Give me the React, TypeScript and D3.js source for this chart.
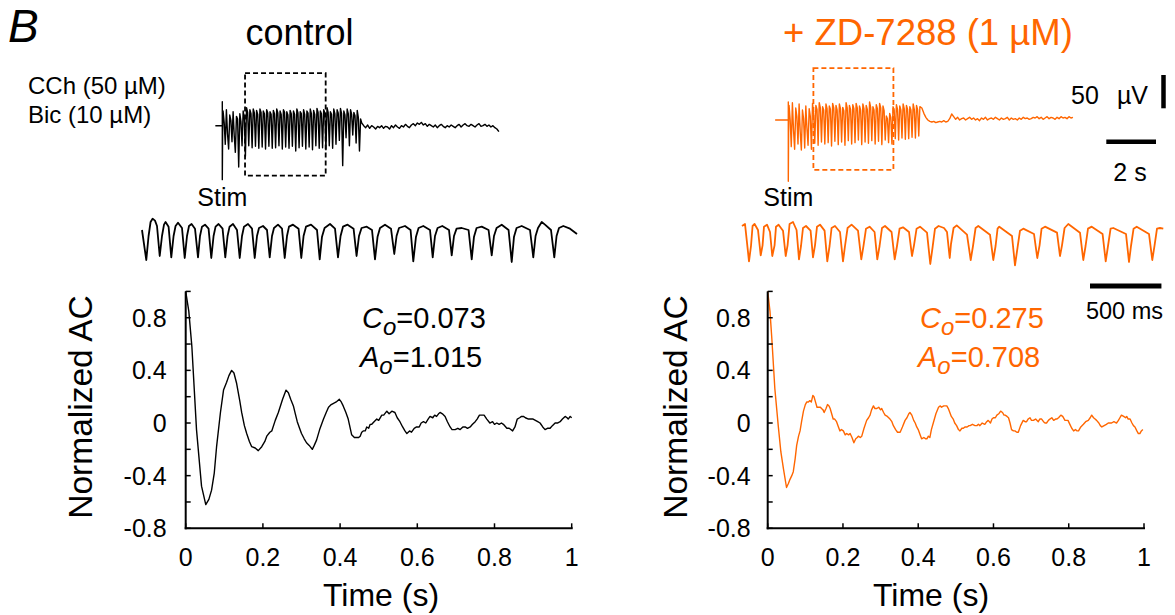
import React from 'react';
import * as d3 from 'd3';

const ORANGE = '#ff6600';
const FONT = '"Liberation Sans", Arial, Helvetica, sans-serif';

// ---------- Top traces (field potential, µV vs s after stim) ----------
const ctrlPreStim = -0.28; // s, baseline before stimulation
const ctrlStim = [36, -81]; // µV, stimulus artefact extremes
// burst sampled every 45 ms (three samples per population spike)
const ctrlBurst = [
  22, 5, -28, 24, -12, -35, 16, 8, -24, 21, -15, -40, 14, 10, -62,
  18, 6, -30, 22, 12, -46, 27, 20, -30, 24, 18, -33, 25, 19, -31,
  23, 17, -34, 25, 20, -32, 22, 18, -35, 24, 19, -31, 21, 17, -34,
  23, 18, -33, 25, 19, -30, 22, 17, -35, 24, 20, -32, 21, 16, -34,
  23, 18, -31, 22, 17, -38, 25, 19, -33, 21, 18, -31, 24, 17, -35,
  22, 19, -32, 25, 18, -36, 23, 17, -30, 26, 20, -34, 22, 18, -33,
  24, 19, -36, 27, 20, -30, 21, 17, -34, 25, 18, -28, 24, 19, -22,
  26, 18, -60, 22, 16, -18, 25, 18, -30, 24, 17, -14, 20, 15, -26,
  23, 12, -38, 10, 4,
];
const ctrlFlat = [
  0, -3, 1, -4, 0, -2, -5, -1, -3, 0,
  -4, -1, -2, -5, 0, -3, 1, -2, -4, 0,
  -2, 2, -1, -3, 1, 3, 0, 4, 2, 5,
  1, 3, -1, 2, 0, -2, 1, -3, 0, 2,
  -1, -3, 0, -2, 1, -1, -3, 0, 2, -2,
  1, 3, 0, -1, 2, 0, -2, 1, 3, -1,
  0, 2, -1, 1, -2, 0, -3, -5, -9,
];
const ctrlBox = { t0: 0.915, t1: 4.16, top: 79, bottom: -75 };

const zdPreStim = -0.53;
const zdStim = [27, -92];
const zdBurst = [
  22, 0, -40, 26, -15, -44, 18, 5, -36, 24, -18, -45, 15, 2, -42,
  21, -12, -38, 17, 6, -44, 25, 10, -35, 22, 16, -38, 26, 18, -33,
  20, 15, -36, 24, 17, -34, 21, 16, -39, 25, 18, -32, 22, 15, -37,
  24, 17, -33, 19, 14, -38, 26, 18, -31, 22, 16, -36, 23, 17, -34,
  25, 18, -30, 21, 15, -37, 24, 17, -33, 22, 16, -35, 27, 19, -31,
  20, 15, -36, 23, 17, -32, 25, 18, -37, 21, 14, -30, 6, 2, -34,
  10, 4, -36, 20, 15, -28, 23, 16, -30, 21, 15, -27, 24, 17, -29,
  22, 16, -28, 20, 15, -26, 24, 16, -27, 22, 15, -24, 20,
];
const zdFlat = [
  18, 10, 4, 0, -2, -3, -2, -4, -3, -2,
  -3, -1, -3, -2, 2, 9, 5, 1, 4, 0,
  2, 3, 0, 2, 4, 1, 3, 0, 2, -1,
  3, 1, 4, 0, 2, 3, 1, 4, 2, 0,
  3, 1, 2, 4, 0, 3, 1, 2, 0, 3,
  1, 4, 2, 3, 1, 2, 4, 3, 5, 2,
  4, 1, 3, 5, 2, 4, 3, 1, 4, 2,
  5, 3, 4, 2, 5, 3, 4,
];
const zdBox = { t0: 1.01, t1: 4.23, top: 78, bottom: -75 };

const burstDt = 0.045; // s
const flatDt = 0.08; // s

// ---------- Expanded traces ([ms, µV]) ----------
const ctrlZoom: [number, number][] = [
  [0, 15], [30, -30], [46, 6], [60, 27], [74, 32], [91, 29], [105, 21],
  [124, -24], [140, 6], [154, 23], [165, 27], [186, 20],
  [205, -26], [221, 6], [235, 21], [252, 26], [280, 18],
  [299, -27], [315, 6], [329, 21], [347, 24], [371, 17],
  [392, -26], [406, 6], [420, 20], [441, 23], [466, 17],
  [485, -27], [501, 6], [515, 20], [536, 24], [564, 17],
  [583, -26], [599, 6], [613, 20], [637, 24], [665, 15],
  [684, -27], [700, 6], [714, 20], [742, 24], [770, 17],
  [789, -27], [805, 6], [819, 18], [847, 21], [875, 15],
  [894, -26], [910, 6], [924, 18], [952, 23], [980, 17],
  [999, -27], [1015, 6], [1029, 20], [1057, 23], [1096, 17],
  [1115, -27], [1131, 6], [1148, 20], [1183, 23], [1225, 15],
  [1244, -29], [1260, 5], [1278, 18], [1316, 24], [1351, 17],
  [1372, -26], [1390, 6], [1407, 20], [1439, 23], [1481, 17],
  [1502, -24], [1519, 6], [1537, 18], [1573, 20], [1610, 15],
  [1631, -29], [1649, 5], [1666, 18], [1701, 23], [1743, 17],
  [1766, -21], [1782, 6], [1799, 18], [1841, 21], [1880, 15],
  [1899, -32], [1918, 5], [1936, 18], [1969, 21], [2016, 15],
  [2035, -26], [2051, 6], [2069, 18], [2102, 21], [2149, 15],
  [2168, -23], [2184, 6], [2202, 17], [2238, 18], [2286, 15],
  [2308, -29], [2324, 5], [2342, 18], [2378, 20], [2426, 15],
  [2448, -23], [2464, 6], [2482, 18], [2518, 23], [2566, 15],
  [2588, -33], [2604, 5], [2622, 18], [2658, 21], [2716, 15],
  [2739, -26], [2755, 6], [2772, 18], [2798, 27], [2821, 23], [2863, 15],
  [2886, -26], [2902, 6], [2919, 18], [2949, 21], [2996, 17], [3045, 9],
];

const zdZoom: [number, number][] = [
  [0, 21], [21, 24], [49, -32], [63, -9], [74, 21], [88, 24], [112, 15],
  [131, -23], [144, -8], [154, 20], [175, 23], [196, 12],
  [212, -24], [228, -8], [238, 20], [256, 23], [287, 14],
  [306, -24], [319, -8], [333, 24], [357, 27], [382, 15],
  [399, -29], [413, -9], [427, 18], [448, 21], [480, 14],
  [497, -26], [511, -8], [525, 20], [546, 23], [578, 14],
  [597, -32], [613, -9], [627, 18], [651, 21], [686, 12],
  [707, -32], [721, -9], [739, 18], [767, 23], [812, 14],
  [835, -29], [851, -8], [868, 17], [893, 20], [928, 12],
  [947, -29], [963, -9], [980, 18], [1001, 21], [1047, 12],
  [1069, -29], [1085, -9], [1103, 17], [1127, 19], [1169, 12],
  [1190, -24], [1204, -8], [1222, 17], [1246, 20], [1295, 11],
  [1318, -36], [1334, -11], [1351, 17], [1376, 21], [1414, 18], [1435, 12],
  [1454, -27], [1463, -6], [1481, 18], [1503, 22], [1575, 8],
  [1601, -30], [1617, -9], [1635, 18], [1654, 21], [1736, 8],
  [1759, -30], [1775, -9], [1789, 17], [1801, 20], [1890, 6],
  [1911, -38], [1929, -11], [1946, 14], [1969, 17], [2044, 9],
  [2067, -27], [2083, -8], [2097, 17], [2121, 20], [2205, 11],
  [2226, -24], [2240, -8], [2258, 18], [2284, 24], [2366, 11],
  [2389, -30], [2405, -9], [2422, 17], [2448, 20], [2524, 9],
  [2546, -32], [2562, -9], [2580, 17], [2599, 18], [2688, 9],
  [2709, -33], [2723, -9], [2741, 17], [2763, 20], [2849, 9],
  [2872, -30], [2888, -8], [2905, 17], [2926, 18], [2949, 17],
];

// ---------- Autocorrelation ([s, normalized AC]) ----------
const ctrlAC: [number, number][] = [
  [0, 1.0], [0.008, 0.85], [0.016, 0.58], [0.028, -0.05], [0.041, -0.48], [0.052, -0.62], [0.06, -0.58],
  [0.067, -0.51], [0.074, -0.38], [0.08, -0.18], [0.09, 0.08], [0.098, 0.25], [0.106, 0.31], [0.112, 0.36],
  [0.119, 0.40], [0.125, 0.38], [0.132, 0.30], [0.14, 0.17], [0.145, 0.08], [0.152, -0.02], [0.158, -0.08],
  [0.165, -0.14], [0.171, -0.18], [0.18, -0.19], [0.188, -0.21], [0.197, -0.18], [0.205, -0.14], [0.21, -0.10],
  [0.218, -0.07], [0.223, -0.06], [0.232, 0.02], [0.24, 0.08], [0.251, 0.18], [0.26, 0.25], [0.266, 0.23],
  [0.272, 0.18], [0.279, 0.13], [0.284, 0.07], [0.289, 0.01], [0.295, -0.04], [0.30, -0.08], [0.307, -0.12],
  [0.313, -0.15], [0.32, -0.17], [0.328, -0.20], [0.333, -0.17], [0.339, -0.13], [0.347, -0.05], [0.357, 0.03],
  [0.364, 0.08], [0.37, 0.12], [0.377, 0.14], [0.383, 0.15], [0.39, 0.16], [0.398, 0.18], [0.403, 0.16],
  [0.408, 0.13], [0.415, 0.08], [0.421, 0.03], [0.43, -0.09], [0.437, -0.11], [0.443, -0.11], [0.448, -0.11],
  [0.452, -0.10], [0.456, -0.07], [0.46, -0.06], [0.465, -0.06], [0.469, -0.03], [0.474, -0.04], [0.478, -0.01],
  [0.482, -0.01], [0.488, 0.01], [0.495, 0.03], [0.5, 0.02], [0.508, 0.06], [0.513, 0.06], [0.521, 0.09],
  [0.527, 0.07], [0.534, 0.09], [0.542, 0.08], [0.548, 0.04], [0.555, 0.01], [0.562, -0.03], [0.568, -0.06],
  [0.573, -0.08], [0.58, -0.06], [0.585, -0.07], [0.592, -0.04], [0.598, -0.03], [0.605, -0.03], [0.61, 0.0],
  [0.616, 0.01], [0.622, 0.0], [0.628, 0.03], [0.633, 0.05], [0.64, 0.04], [0.645, 0.06], [0.65, 0.05],
  [0.655, 0.07], [0.659, 0.08], [0.665, 0.07], [0.672, 0.05], [0.678, 0.01], [0.685, -0.03], [0.69, -0.05],
  [0.698, -0.05], [0.705, -0.04], [0.711, -0.05], [0.718, -0.03], [0.724, -0.03], [0.73, -0.04], [0.737, -0.03],
  [0.743, -0.01], [0.75, 0.01], [0.755, 0.03], [0.761, 0.06], [0.767, 0.06], [0.773, 0.06], [0.78, 0.03],
  [0.788, 0.0], [0.795, 0.01], [0.8, -0.01], [0.806, 0.0], [0.812, -0.01], [0.818, 0.0], [0.823, -0.01],
  [0.832, -0.04], [0.838, -0.04], [0.847, -0.06], [0.853, -0.03], [0.859, 0.03], [0.865, 0.04], [0.87, 0.05],
  [0.875, 0.05], [0.88, 0.04], [0.888, 0.03], [0.894, 0.03], [0.9, 0.03], [0.906, 0.02], [0.912, 0.01],
  [0.918, 0.0], [0.925, -0.03], [0.931, -0.05], [0.937, -0.04], [0.944, -0.04], [0.95, -0.02], [0.957, 0.0],
  [0.963, 0.0], [0.97, 0.01], [0.976, 0.03], [0.983, 0.05], [0.988, 0.04], [0.991, 0.03], [0.996, 0.05], [1.0, 0.04],
];

const zdAC: [number, number][] = [
  [0, 1.0], [0.006, 0.85], [0.011, 0.64], [0.019, 0.26], [0.028, -0.02], [0.035, -0.22], [0.042, -0.35],
  [0.05, -0.49], [0.055, -0.46], [0.059, -0.43], [0.064, -0.40], [0.068, -0.37], [0.073, -0.27], [0.077, -0.17],
  [0.082, -0.10], [0.086, -0.06], [0.09, 0.01], [0.095, 0.09], [0.1, 0.14], [0.104, 0.16], [0.108, 0.16],
  [0.112, 0.17], [0.116, 0.16], [0.12, 0.21], [0.123, 0.20], [0.126, 0.17], [0.131, 0.12], [0.135, 0.12],
  [0.14, 0.12], [0.143, 0.11], [0.147, 0.10], [0.15, 0.08], [0.155, 0.11], [0.159, 0.14], [0.163, 0.13],
  [0.166, 0.11], [0.17, 0.07], [0.174, 0.03], [0.178, 0.03], [0.183, 0.01], [0.188, -0.03], [0.192, -0.06],
  [0.196, -0.05], [0.201, -0.06], [0.206, -0.09], [0.21, -0.08], [0.215, -0.09], [0.219, -0.08], [0.224, -0.11],
  [0.229, -0.15], [0.234, -0.12], [0.238, -0.11], [0.241, -0.10], [0.246, -0.11], [0.25, -0.10], [0.256, -0.04],
  [0.263, 0.02], [0.268, 0.04], [0.272, 0.06], [0.276, 0.10], [0.281, 0.13], [0.285, 0.11], [0.29, 0.11],
  [0.295, 0.12], [0.3, 0.10], [0.303, 0.11], [0.308, 0.08], [0.312, 0.06], [0.318, 0.05], [0.325, 0.03],
  [0.33, 0.01], [0.334, -0.02], [0.34, -0.05], [0.345, -0.07], [0.352, -0.07], [0.358, -0.03], [0.365, 0.02],
  [0.37, 0.04], [0.375, 0.07], [0.378, 0.08], [0.383, 0.06], [0.388, 0.02], [0.392, 0.0], [0.396, -0.03],
  [0.4, -0.05], [0.405, -0.09], [0.409, -0.12], [0.415, -0.11], [0.42, -0.12], [0.423, -0.12], [0.427, -0.10],
  [0.431, -0.11], [0.435, -0.05], [0.44, 0.0], [0.447, 0.07], [0.454, 0.12], [0.458, 0.13], [0.462, 0.12],
  [0.468, 0.13], [0.476, 0.13], [0.48, 0.11], [0.484, 0.08], [0.488, 0.05], [0.493, 0.03], [0.497, 0.0],
  [0.502, -0.02], [0.507, -0.05], [0.511, -0.06], [0.516, -0.04], [0.52, -0.04], [0.524, -0.03], [0.53, -0.03],
  [0.535, -0.02], [0.538, -0.02], [0.544, -0.01], [0.551, -0.02], [0.556, -0.02], [0.56, -0.01], [0.564, -0.02],
  [0.57, 0.0], [0.577, -0.01], [0.582, 0.01], [0.586, 0.02], [0.592, 0.0], [0.596, 0.03], [0.6, 0.04],
  [0.605, 0.04], [0.609, 0.06], [0.614, 0.07], [0.619, 0.09], [0.624, 0.08], [0.628, 0.06], [0.631, 0.06],
  [0.636, 0.05], [0.64, 0.04], [0.644, 0.0], [0.648, -0.05], [0.653, -0.06], [0.657, -0.06], [0.662, -0.07],
  [0.666, -0.07], [0.672, -0.02], [0.679, 0.02], [0.684, 0.01], [0.688, 0.01], [0.692, 0.03], [0.697, 0.04],
  [0.701, 0.02], [0.706, 0.02], [0.712, 0.03], [0.719, 0.01], [0.723, 0.03], [0.728, 0.03], [0.733, 0.01],
  [0.737, 0.0], [0.741, 0.0], [0.746, 0.02], [0.75, 0.03], [0.755, 0.04], [0.76, 0.02], [0.765, 0.03],
  [0.768, 0.03], [0.773, 0.04], [0.779, 0.06], [0.784, 0.05], [0.79, 0.02], [0.794, 0.02], [0.798, 0.02],
  [0.803, -0.01], [0.808, -0.04], [0.813, -0.06], [0.818, -0.05], [0.822, -0.06], [0.826, -0.06], [0.832, -0.03],
  [0.839, -0.01], [0.845, 0.01], [0.852, 0.02], [0.857, 0.04], [0.861, 0.06], [0.866, 0.04], [0.87, 0.03],
  [0.874, 0.02], [0.88, 0.0], [0.884, -0.02], [0.888, -0.03], [0.894, -0.02], [0.9, -0.01], [0.905, 0.0],
  [0.91, 0.0], [0.914, 0.0], [0.92, 0.01], [0.927, 0.0], [0.932, 0.02], [0.936, 0.04], [0.94, 0.06],
  [0.946, 0.05], [0.951, 0.04], [0.954, 0.05], [0.958, 0.03], [0.963, 0.03], [0.968, 0.0], [0.972, -0.02],
  [0.976, -0.03], [0.981, -0.06], [0.985, -0.08], [0.989, -0.08], [0.993, -0.06], [0.997, -0.05],
];

const acYTicks = [-0.8, -0.6, -0.4, -0.2, 0, 0.2, 0.4, 0.6, 0.8, 1.0];
const acYLabels = [-0.8, -0.4, 0, 0.4, 0.8];
const acXTicks = [0, 0.2, 0.4, 0.6, 0.8, 1];
const ctrlStats = { C: '0.073', A: '1.015' };
const zdStats = { C: '0.275', A: '0.708' };

function buildTop(pre: number, stim: number[], burst: number[], flat: number[]): [number, number][] {
  const pts: [number, number][] = [[pre, 0], [0, 0], [0, stim[0]], [0, stim[1]], [0.015, 0]];
  burst.forEach((v, i) => pts.push([0.03 + i * burstDt, v]));
  const tb = 0.03 + (burst.length - 1) * burstDt;
  flat.forEach((v, k) => pts.push([tb + (k + 1) * flatDt, v]));
  return pts;
}

function ACPanel({ x, y, data, color, labelGap, stats, yLabelX, xLabelX, statsX }: any) {
  const x0 = x(0);
  const y0 = y(-0.8);
  const line = d3.line<[number, number]>().x((d) => x(d[0])).y((d) => y(d[1]));
  const fmt = (v: number) => (v === 0 ? '0' : d3.format('.1f')(v).replace('−', '-'));
  const fmtX = (v: number) => (v === 0 ? '0' : v === 1 ? '1' : String(v));
  return (
    <g>
      <path d={line(data) || ''} fill="none" stroke={color} strokeWidth={1.4} strokeLinejoin="round" />
      <line x1={x0} x2={x0} y1={y(1.0)} y2={y0 + 1} stroke="#000" strokeWidth={2} />
      <line x1={x0 - 1} x2={x(1) + 1} y1={y0} y2={y0} stroke="#000" strokeWidth={2} />
      {acYTicks.map((t) => (
        <line key={'yt' + t} x1={x0} x2={x0 + 5} y1={y(t)} y2={y(t)} stroke="#000" strokeWidth={1.5} />
      ))}
      {acXTicks.map((t) => (
        <line key={'xt' + t} x1={x(t)} x2={x(t)} y1={y0} y2={y0 - 5} stroke="#000" strokeWidth={1.5} />
      ))}
      {acYLabels.map((t) => (
        <text key={'yl' + t} x={x0 - labelGap} y={y(t)} dy="0.36em" textAnchor="end" fontSize={25}>
          {fmt(t)}
        </text>
      ))}
      {acXTicks.map((t) => (
        <text key={'xl' + t} x={x(t)} y={566} textAnchor="middle" fontSize={25}>
          {fmtX(t)}
        </text>
      ))}
      <text x={xLabelX} y={606} textAnchor="middle" fontSize={32}>Time (s)</text>
      <text transform={`translate(${yLabelX},407) rotate(-90)`} textAnchor="middle" fontSize={33.5}>
        Normalized AC
      </text>
      <text x={statsX} y={328} fontSize={29} fill={color}>
        <tspan fontStyle="italic">C</tspan>
        <tspan fontStyle="italic" fontSize={24} dy={7}>o</tspan>
        <tspan dy={-7}>={stats.C}</tspan>
      </text>
      <text x={statsX - 2} y={366.5} fontSize={29} fill={color}>
        <tspan fontStyle="italic">A</tspan>
        <tspan fontStyle="italic" fontSize={24} dy={7}>o</tspan>
        <tspan dy={-7}>={stats.A}</tspan>
      </text>
    </g>
  );
}

export default function App() {
  const W = 1175;
  const H = 615;

  // top traces: 2 s = 49.7 px, 50 µV = 33.3 px
  const ctrlTX = d3.scaleLinear().domain([0, 2]).range([222.3, 272.0]);
  const ctrlTY = d3.scaleLinear().domain([0, 50]).range([125.7, 92.4]);
  const zdTX = d3.scaleLinear().domain([0, 2]).range([788.3, 838.0]);
  const zdTY = d3.scaleLinear().domain([0, 50]).range([120, 86.7]);

  const ctrlTop = buildTop(ctrlPreStim, ctrlStim, ctrlBurst, ctrlFlat);
  const zdTop = buildTop(zdPreStim, zdStim, zdBurst, zdFlat);
  const lineC = d3.line<[number, number]>().x((d) => ctrlTX(d[0])).y((d) => ctrlTY(d[1]));
  const lineZ = d3.line<[number, number]>().x((d) => zdTX(d[0])).y((d) => zdTY(d[1]));

  // expanded traces
  const midT = d3.scaleLinear().domain([0, 3045]).range([0, 435]);
  const midY = d3.scaleLinear().domain([-60, 60]).range([280, 200]);
  const lineMid = d3.line<[number, number]>().x((d) => midT(d[0])).y((d) => midY(d[1]));

  // AC panels
  const acY = d3.scaleLinear().domain([-0.8, 1.0]).range([528.3, 291.4]);
  const acXL = d3.scaleLinear().domain([0, 1]).range([185.7, 571.7]);
  const acXR = d3.scaleLinear().domain([0, 1]).range([767.7, 1144]);

  const barX0 = 1106.3;
  const vBarX = 1163.5;

  return (
    <svg
      width={W}
      height={H}
      style={{ position: 'absolute', left: 0, top: 0, display: 'block', background: '#fff' }}
      fontFamily={FONT}
    >
      <rect x={0} y={0} width={W} height={H} fill="#fff" />
      {/* Panel letter and titles */}
      <text x={8} y={42} fontSize={46} fontStyle="italic">B</text>
      <text x={299.5} y={45} fontSize={36} textAnchor="middle">control</text>
      <text x={928} y={45} fontSize={36.5} textAnchor="middle" fill={ORANGE}>+ ZD-7288 (1 µM)</text>
      <text x={28} y={94} fontSize={24}>CCh (50 µM)</text>
      <text x={28} y={122.5} fontSize={24}>Bic (10 µM)</text>

      {/* top traces */}
      <path d={lineC(ctrlTop) || ''} fill="none" stroke="#000" strokeWidth={1.4} strokeLinejoin="round" />
      <path d={lineZ(zdTop) || ''} fill="none" stroke={ORANGE} strokeWidth={1.4} strokeLinejoin="round" />
      <rect
        x={ctrlTX(ctrlBox.t0)}
        y={ctrlTY(ctrlBox.top)}
        width={ctrlTX(ctrlBox.t1) - ctrlTX(ctrlBox.t0)}
        height={ctrlTY(ctrlBox.bottom) - ctrlTY(ctrlBox.top)}
        fill="none"
        stroke="#000"
        strokeWidth={1.8}
        strokeDasharray="5,3"
      />
      <rect
        x={zdTX(zdBox.t0)}
        y={zdTY(zdBox.top)}
        width={zdTX(zdBox.t1) - zdTX(zdBox.t0)}
        height={zdTY(zdBox.bottom) - zdTY(zdBox.top)}
        fill="none"
        stroke={ORANGE}
        strokeWidth={1.8}
        strokeDasharray="5,3"
      />
      <text x={ctrlTX(0)} y={206} fontSize={25} textAnchor="middle">Stim</text>
      <text x={zdTX(0)} y={206} fontSize={25} textAnchor="middle">Stim</text>

      {/* scale bars */}
      <line x1={vBarX} x2={vBarX} y1={108.3 - (zdTY(0) - zdTY(50))} y2={108.3} stroke="#000" strokeWidth={4.5} />
      <text x={1071} y={104} fontSize={25}>50</text>
      <text x={1148} y={104} fontSize={25} textAnchor="end">µV</text>
      <line
        x1={barX0}
        x2={barX0 + (zdTX(2) - zdTX(0))}
        y1={141.7}
        y2={141.7}
        stroke="#000"
        strokeWidth={4.5}
      />
      <text x={1130} y={181} fontSize={25} textAnchor="middle">2 s</text>

      {/* expanded traces */}
      <g transform="translate(142,0)">
        <path d={lineMid(ctrlZoom) || ''} fill="none" stroke="#000" strokeWidth={1.8} strokeLinejoin="round" />
      </g>
      <g transform="translate(742,0)">
        <path d={lineMid(zdZoom) || ''} fill="none" stroke={ORANGE} strokeWidth={1.8} strokeLinejoin="round" />
      </g>
      <line x1={1090} x2={1090 + midT(500)} y1={286} y2={286} stroke="#000" strokeWidth={5} />
      <text x={1124.5} y={319} fontSize={23.5} textAnchor="middle">500 ms</text>

      {/* AC panels */}
      <ACPanel x={acXL} y={acY} data={ctrlAC} color="#000" labelGap={19} stats={ctrlStats} yLabelX={92} xLabelX={381} statsX={362} />
      <ACPanel x={acXR} y={acY} data={zdAC} color={ORANGE} labelGap={17} stats={zdStats} yLabelX={687} xLabelX={931} statsX={920} />
    </svg>
  );
}
